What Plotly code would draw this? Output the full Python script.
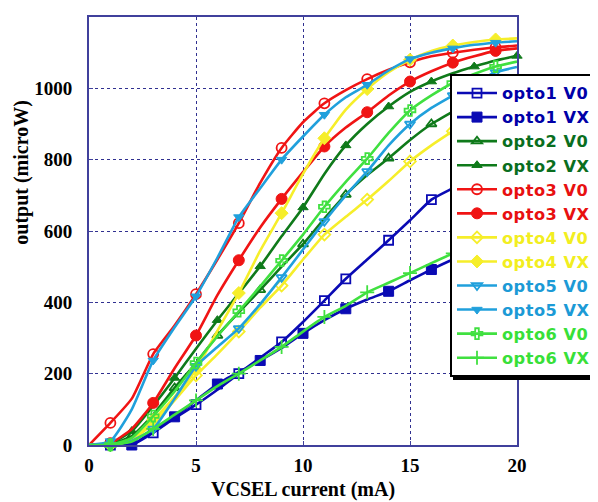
import plotly.graph_objects as go

# ---------------- data ----------------
current_mA = list(range(21))

opto1_V0 = [0, 0, 0, 34, 75, 113, 155, 200, 245, 289, 345, 405, 466, 520, 574, 630, 688, 720, 750, 775, 795]
opto1_VX = [0, 0, 0, 40, 79, 125, 171, 205, 237, 272, 313, 350, 382, 408, 431, 462, 492, 520, 545, 568, 590]
opto2_V0 = [0, 2, 25, 85, 160, 230, 307, 372, 435, 500, 563, 635, 702, 757, 804, 855, 900, 935, 968, 995, 1015]
opto2_VX = [0, 5, 39, 110, 188, 270, 350, 425, 501, 585, 666, 760, 840, 900, 949, 990, 1019, 1042, 1061, 1078, 1091]
opto3_V0 = [0, 62, 130, 255, 335, 423, 520, 622, 735, 833, 905, 958, 995, 1026, 1052, 1073, 1090, 1100, 1108, 1115, 1120]
opto3_VX = [0, 5, 45, 118, 215, 307, 420, 518, 610, 690, 765, 837, 890, 933, 980, 1019, 1048, 1072, 1090, 1105, 1112]
opto4_V0 = [0, 0, 15, 60, 125, 195, 255, 318, 385, 447, 520, 590, 640, 688, 740, 795, 840, 880, 920, 960, 1000]
opto4_VX = [0, 0, 12, 70, 135, 211, 320, 426, 545, 650, 760, 860, 940, 998, 1045, 1080, 1105, 1120, 1130, 1137, 1140]
opto5_V0 = [0, 0, 12, 45, 130, 221, 275, 327, 395, 470, 548, 627, 700, 767, 840, 900, 945, 980, 1015, 1045, 1060]
opto5_VX = [0, 11, 100, 237, 330, 417, 525, 639, 720, 800, 865, 926, 975, 1010, 1050, 1082, 1100, 1112, 1122, 1128, 1132]
opto6_V0 = [0, 0, 20, 81, 150, 230, 305, 375, 445, 517, 590, 668, 738, 803, 875, 938, 980, 1015, 1040, 1061, 1075]
opto6_VX = [0, 0, 10, 45, 85, 125, 165, 200, 237, 275, 318, 359, 390, 428, 455, 482, 510, 537, 560, 582, 600]

# x positions (mA) where a symbol is drawn on each curve
odd_marks = [1, 3, 5, 7, 9, 11, 13, 15, 17, 19]
even_marks = [2, 4, 6, 8, 10, 12, 14, 16, 18, 20]
opto1_V0_marks = [1, 3, 5, 7, 9, 11, 12, 14, 16, 18, 20]

series_names = ["opto1 V0", "opto1 VX", "opto2 V0", "opto2 VX", "opto3 V0", "opto3 VX",
                "opto4 V0", "opto4 VX", "opto5 V0", "opto5 VX", "opto6 V0", "opto6 VX"]
series_values = [opto1_V0, opto1_VX, opto2_V0, opto2_VX, opto3_V0, opto3_VX,
                 opto4_V0, opto4_VX, opto5_V0, opto5_VX, opto6_V0, opto6_VX]
series_marks = [opto1_V0_marks, even_marks, even_marks, even_marks, odd_marks, odd_marks,
                odd_marks, odd_marks, odd_marks, odd_marks, odd_marks, odd_marks]

# ---------------- styles ----------------
colors = ["#0a0ab4", "#0a0ab4", "#0f7a1a", "#0f7a1a", "#f01414", "#f01414",
          "#f6ee2a", "#f6ee2a", "#20a0dc", "#20a0dc", "#40e040", "#40e040"]
symbols = ["square-open", "square", "triangle-up-open", "triangle-up", "circle-open", "circle",
           "diamond-open", "diamond", "triangle-down-open", "triangle-down", "cross-open", "cross-thin-open"]
sizes = [9, 10, 9, 9, 10, 11, 9, 10, 9, 9, 9, 10]
legend_text_colors = ["#0000a8", "#0000a8", "#0a6e1e", "#0a6e1e", "#e81010", "#e81010",
                      "#f2ee20", "#f2ee20", "#1c9ad6", "#1c9ad6", "#38e038", "#38e038"]

fig = go.Figure()

for i, (name, vals, marks) in enumerate(zip(series_names, series_values, series_marks)):
    c = colors[i]
    mline = dict(color=c, width=1.8 if "open" in symbols[i] else 1)
    # full line
    fig.add_trace(go.Scatter(
        x=current_mA, y=vals, mode="lines",
        line=dict(color=c, width=2.6, shape="spline", smoothing=0.5),
        showlegend=False, legendgroup=name, cliponaxis=False, hoverinfo="skip"))
    # symbols
    fig.add_trace(go.Scatter(
        x=marks, y=[vals[current_mA.index(m)] for m in marks], mode="markers",
        marker=dict(symbol=symbols[i], size=sizes[i], color=c, line=mline),
        showlegend=False, legendgroup=name, cliponaxis=False))
    # legend entry
    fig.add_trace(go.Scatter(
        x=[None], y=[None], mode="lines+markers",
        line=dict(color=c, width=2.6),
        marker=dict(symbol=symbols[i], size=sizes[i], color=c, line=mline),
        name="<span style='color:%s;letter-spacing:0.5px'>%s</span>" % (legend_text_colors[i], name),
        legendgroup=name, showlegend=True))

axis_color = "#40409c"
grid_color = "#303090"
tickfont = dict(family="Liberation Serif", size=19, color="black", weight="bold")

fig.update_xaxes(range=[0, 20], dtick=5, tick0=0, showline=True, linecolor=axis_color, linewidth=2,
                 mirror=True, showgrid=True, gridcolor=grid_color, griddash="dot", gridwidth=1,
                 ticks="inside", ticklen=4, tickcolor=axis_color, tickfont=tickfont, zeroline=False,
                 ticklabelstandoff=2)
fig.update_yaxes(range=[0, 1200], dtick=200, tick0=0, showline=True, linecolor=axis_color, linewidth=2,
                 mirror=True, showgrid=True, gridcolor=grid_color, griddash="dot", gridwidth=1,
                 ticks="inside", ticklen=4, tickcolor=axis_color, tickfont=tickfont, zeroline=False,
                 ticklabelstandoff=11)

title_font = dict(family="Liberation Serif", size=20, color="black", weight="bold")
fig.add_annotation(text="VCSEL current (mA)", xref="paper", yref="paper", x=0.499, y=-0.105,
                   showarrow=False, font=title_font, xanchor="center", yanchor="middle")
fig.add_annotation(text="output (microW)", xref="paper", yref="paper", x=-0.158, y=0.637,
                   showarrow=False, font=title_font, textangle=-90, xanchor="center", yanchor="middle")

# legend drop shadow
fig.add_shape(type="rect", xref="paper", yref="paper",
              x0=(453 - 89) / 428, x1=(640 - 89) / 428, y0=(445 - 380) / 428, y1=(445 - 78) / 428,
              fillcolor="black", line=dict(width=0), layer="above")

# page body has an 8px margin: plot area kept at x 89..517, y 17..445 of the window
fig.update_layout(
    width=590, height=494,
    margin=dict(l=81, r=81, t=9, b=57, autoexpand=False),
    paper_bgcolor="white", plot_bgcolor="white",
    legend=dict(x=(450 - 89) / 428, y=(445 - 74) / 428, xanchor="left", yanchor="top",
                bgcolor="white", bordercolor="black", borderwidth=2,
                font=dict(family="DejaVu Sans", size=16.2, weight="bold"),
                itemwidth=40, tracegroupgap=0),
)

fig.write_html("out.html")
